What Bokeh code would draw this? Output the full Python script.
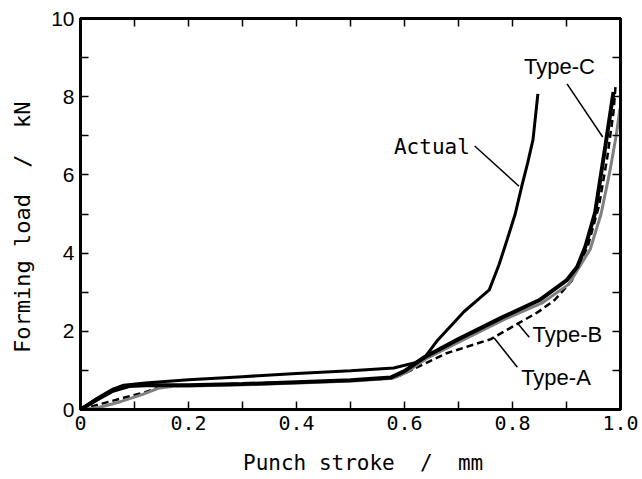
from bokeh.plotting import figure
from bokeh.models import Range1d, FixedTicker, LinearAxis, CustomJSTickFormatter, Label
from bokeh.embed import file_html
from bokeh.resources import INLINE

# ---- data ----
actual_x = [0, 0.03, 0.06, 0.08, 0.12, 0.2, 0.3, 0.4, 0.5, 0.58, 0.62, 0.636, 0.66, 0.69, 0.71, 0.735, 0.757, 0.775, 0.79, 0.805, 0.817, 0.828, 0.838, 0.847]
actual_y = [0, 0.28, 0.52, 0.62, 0.68, 0.76, 0.84, 0.92, 0.99, 1.06, 1.2, 1.31, 1.75, 2.2, 2.5, 2.8, 3.06, 3.7, 4.34, 5.0, 5.7, 6.3, 6.9, 8.07]

typec_x = [0, 0.03, 0.06, 0.09, 0.12, 0.2, 0.3, 0.4, 0.5, 0.575, 0.6, 0.636, 0.7, 0.78, 0.85, 0.9, 0.92, 0.935, 0.953, 0.972, 0.987]
typec_y = [0, 0.25, 0.48, 0.6, 0.62, 0.62, 0.65, 0.7, 0.75, 0.82, 0.98, 1.33, 1.8, 2.35, 2.8, 3.3, 3.65, 4.17, 5.04, 6.74, 8.12]

typeb_x = [0, 0.03, 0.07, 0.11, 0.14, 0.17, 0.2, 0.3, 0.4, 0.5, 0.575, 0.6, 0.636, 0.7, 0.78, 0.85, 0.9, 0.94, 0.96, 0.975, 0.988, 0.995]
typeb_y = [0, 0.05, 0.2, 0.38, 0.54, 0.6, 0.6, 0.63, 0.68, 0.73, 0.8, 0.95, 1.3, 1.75, 2.3, 2.72, 3.2, 4.1, 5.0, 6.0, 7.0, 7.7]

typea_x = [0, 0.04, 0.08, 0.12, 0.146, 0.2, 0.3, 0.4, 0.5, 0.58, 0.604, 0.678, 0.76, 0.847, 0.878, 0.91, 0.94, 0.96, 0.975, 0.987, 0.991]
typea_y = [0, 0.15, 0.3, 0.44, 0.57, 0.62, 0.66, 0.7, 0.74, 0.8, 0.95, 1.44, 1.8, 2.49, 2.8, 3.3, 4.2, 5.2, 6.4, 7.6, 8.3]

x_ticks = [0, 0.2, 0.4, 0.6, 0.8, 1.0]
x_minor = [0.1, 0.3, 0.5, 0.7, 0.9]
y_ticks = [0, 2, 4, 6, 8, 10]
y_minor = [1, 3, 5, 7, 9]

NB = "\u00a0"
x_title = NB * 2 + "Punch stroke" + NB * 2 + "/" + NB * 2 + "mm"
y_title = "Forming load" + NB * 2 + "/" + NB * 2 + "kN" + NB * 2

# annotation labels: text, x, y, anchor
labels = [
    ("Type-C", 0.887, 8.77, "center"),
    ("Actual", 0.721, 6.71, "right"),
    ("Type-B", 0.837, 1.93, "left"),
    ("Type-A", 0.816, 0.82, "left"),
]
leaders_x = [[0.901, 0.967], [0.730, 0.812], [0.809, 0.831], [0.766, 0.809]]
leaders_y = [[8.33, 6.97], [6.74, 5.71], [2.21, 1.85], [1.83, 1.08]]

p = figure(width=642, height=479, output_backend="svg", toolbar_location=None,
           x_range=Range1d(0, 1.0), y_range=Range1d(0, 10),
           min_border_left=80, min_border_right=22, min_border_top=18, min_border_bottom=70)
p.xgrid.visible = False
p.ygrid.visible = False
p.outline_line_color = "black"
p.outline_line_width = 3
p.background_fill_color = "white"
p.border_fill_color = "white"

# curves
p.line(typea_x, typea_y, line_color="black", line_width=2.5, line_dash="7 4")
p.line([x + 0.004 for x in typeb_x], typeb_y, line_color="#808080", line_width=3)
p.line(typec_x, typec_y, line_color="black", line_width=4)
p.line(actual_x, actual_y, line_color="black", line_width=3)

p.multi_line(leaders_x, leaders_y, line_color="black", line_width=1.5)

for t, lx, ly, al in labels:
    font = "DejaVu Sans Mono" if t == "Actual" else "Liberation Sans"
    size = "21px" if t == "Actual" else "22px"
    p.add_layout(Label(x=lx, y=ly, text=t, text_align=al, text_baseline="middle",
                       text_font=font, text_font_size=size, text_color="black"))

fmt = CustomJSTickFormatter(code="return tick == 0 ? '0' : tick.toFixed(1);")
blank = CustomJSTickFormatter(code="return '';")

ax = p.xaxis[0]
ax.ticker = FixedTicker(ticks=x_ticks, minor_ticks=x_minor)
ax.formatter = fmt
ax.axis_label = x_title
ax.major_label_text_font = "DejaVu Sans Mono"
ax.major_label_text_font_size = "20px"
ax.axis_label_text_font = "DejaVu Sans Mono"
ax.axis_label_text_font_size = "21px"
ax.axis_label_standoff = 18
ax.major_label_standoff = 6

ay = p.yaxis[0]
ay.ticker = FixedTicker(ticks=y_ticks, minor_ticks=y_minor)
ay.axis_label = y_title
ay.major_label_text_font = "Liberation Sans"
ay.major_label_text_font_size = "21px"
ay.axis_label_text_font = "DejaVu Sans Mono"
ay.axis_label_text_font_size = "22px"
ay.axis_label_standoff = 13
ay.major_label_standoff = 6

top = LinearAxis(ticker=FixedTicker(ticks=x_ticks, minor_ticks=x_minor),
                 formatter=blank, axis_label=None)
right = LinearAxis(ticker=FixedTicker(ticks=y_ticks, minor_ticks=y_minor),
                   formatter=blank, axis_label=None)
p.add_layout(top, "above")
p.add_layout(right, "right")

for a in [ax, ay, top, right]:
    a.axis_line_width = 3
    a.axis_line_color = "black"
    a.major_tick_in = 8
    a.major_tick_out = 0
    a.minor_tick_in = 8
    a.minor_tick_out = 0
    a.major_tick_line_width = 1.5
    a.minor_tick_line_width = 1.5
    a.major_tick_line_color = "black"
    a.minor_tick_line_color = "black"
    a.major_label_text_color = "black"
    a.axis_label_text_color = "black"
    a.axis_label_text_font_style = "normal"

for a in [top, right]:
    a.major_label_standoff = 0

open("out.html", "w").write(file_html(p, INLINE))
